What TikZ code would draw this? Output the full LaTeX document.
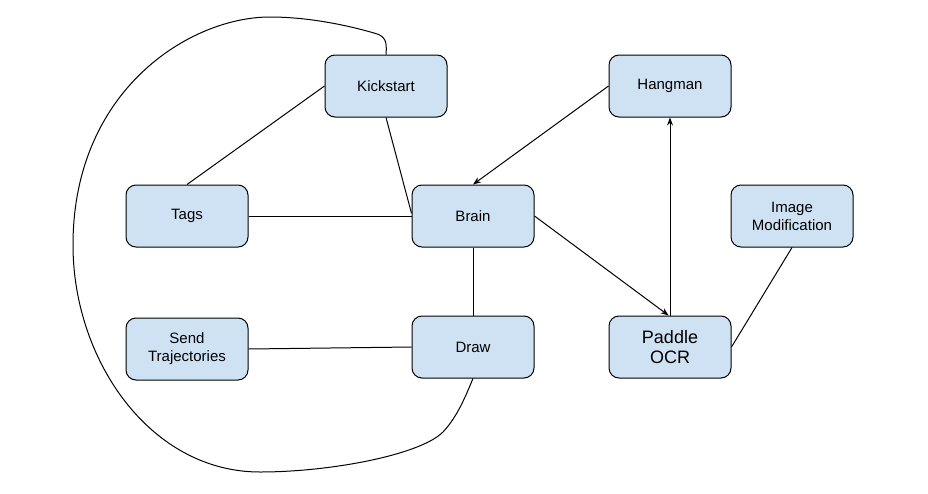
\documentclass[tikz,border=0pt]{standalone}
\usepackage{fontspec}
\setmainfont{Liberation Sans}
\usetikzlibrary{arrows.meta}
\definecolor{boxblue}{HTML}{CFE2F3}

\tikzset{
  box/.style={draw=black, fill=boxblue, line width=0.75pt, rounded corners=7.5pt,
    minimum width=91.5pt, minimum height=46.5pt, align=center,
    font=\fontsize{11.25}{13.5}\selectfont},
  link/.style={line width=0.75pt},
  arr/.style={link, -{Stealth[length=6pt,width=4.5pt]}}
}

\begin{document}
\begin{tikzpicture}[x=0.75pt, y=-0.75pt]
  \useasboundingbox (0, 0) rectangle (928, 493);

  \node[box] (kickstart) at (386, 86) {Kickstart};
  \node[box] (hangman) at (670, 86) {Hangman};
  \node[box] (tags) at (187, 216) {Tags};
  \node[box] (brain) at (473, 216) {Brain};
  \node[box] (imgmod) at (792, 216) {Image\\Modification};
  \node[box] (sendtraj) at (187, 349) {Send\\Trajectories};
  \node[box] (drawbox) at (473, 347) {Draw};
  \node[box, font=\fontsize{13.5}{15.5}\selectfont] (paddle) at (670, 347) {Paddle\\OCR};

  \draw[link] (kickstart.west) -- (tags.north);
  \draw[link] (kickstart.south) -- ([yshift=2pt]brain.west);
  \draw[link] (tags.east) -- (brain.west);
  \draw[arr] (hangman.west) -- (brain.north);
  \draw[arr] (brain.east) -- ([xshift=-1pt]paddle.north);
  \draw[arr] (paddle.north) -- (hangman.south);
  \draw[link] (brain.south) -- (drawbox.north);
  \draw[link] (sendtraj.east) -- (drawbox.west);
  \draw[link] (imgmod.south) -- (paddle.east);

  % loop round the left side
  \draw[link] (kickstart.north)
    .. controls (387, 42) and (386, 36) .. (374, 33)
    .. controls (350, 26) and (310, 17) .. (270, 17)
    .. controls (190, 17) and (73, 90) .. (73, 245)
    .. controls (73, 360) and (150, 472) .. (260, 472)
    .. controls (330, 472) and (420, 455) .. (443, 432)
    .. controls (458, 416) and (466, 395) .. (drawbox.south);
\end{tikzpicture}
\end{document}
